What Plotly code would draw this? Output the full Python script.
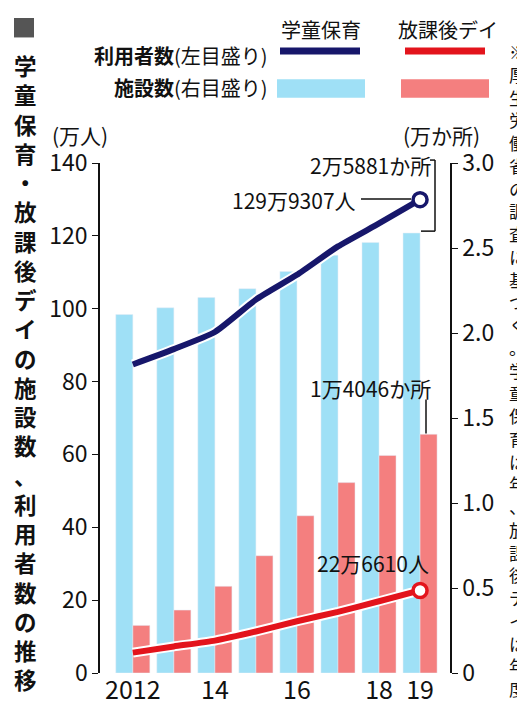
import plotly.graph_objects as go

years = [2012, 2013, 2014, 2015, 2016, 2017, 2018, 2019]
tick_vals = [2012, 2014, 2016, 2018, 2019]
tick_text = ["2012", "14", "16", "18", "19"]
gakudo_users = [84.7, 88.9, 93.6, 102.5, 109.3, 117.1, 123.4, 129.9307]
day_users = [5.6, 7.3, 8.9, 11.4, 14.2, 16.8, 19.7, 22.661]
gakudo_fac = [2.1085, 2.1482, 2.2084, 2.2608, 2.3619, 2.4573, 2.5328, 2.5881]
day_fac = [0.28, 0.37, 0.51, 0.69, 0.925, 1.12, 1.28, 1.4046]

NAVY = "#17176b"; RED = "#e3141c"; LBLUE = "#9fe0f6"; PINK = "#f47f7f"
FONT = "Noto Sans CJK JP"
L, R, T, B = 92, 83, 155, 31
W, H = 525, 710
def px(x): return (x - L) / (W - L - R)
def py(y): return (H - B - y) / (H - T - B)

fig = go.Figure()
fig.add_bar(x=years, y=gakudo_fac, marker_color=LBLUE, offsetgroup="a", yaxis="y")
fig.add_bar(x=years, y=day_fac, marker_color=PINK, offsetgroup="b", yaxis="y")
for vals, col in [(gakudo_users, NAVY), (day_users, RED)]:
    fig.add_scatter(x=years, y=vals, mode="lines", line=dict(color="white", width=10, shape="spline", smoothing=0.5), yaxis="y2", hoverinfo="skip")
    fig.add_scatter(x=years, y=vals, mode="lines", line=dict(color=col, width=6, shape="spline", smoothing=0.5), yaxis="y2")
    fig.add_scatter(x=years[-1:], y=vals[-1:], mode="markers", marker=dict(size=14, color="white", line=dict(color=col, width=3.5)), yaxis="y2")

fig.update_layout(
    width=W, height=H, margin=dict(l=L, r=R, t=T, b=B), showlegend=False,
    plot_bgcolor="white", paper_bgcolor="white", barmode="group", bargap=0.17, bargroupgap=0,
    font=dict(family=FONT, color="#111", size=22),
    xaxis=dict(range=[2011.2, 2019.73], tickvals=tick_vals, ticktext=tick_text, showgrid=False,
               ticks="", tickfont=dict(size=25), zeroline=False),
    yaxis=dict(side="right", range=[0, 3.0], tickvals=[0, 0.5, 1.0, 1.5, 2.0, 2.5, 3.0],
               ticktext=["0", "0.5", "1.0", "1.5", "2.0", "2.5", "3.0"], showgrid=False,
               showline=True, linecolor="#111", linewidth=1.5, ticks="outside", ticklen=6,
               tickcolor="#111", zeroline=False, tickfont=dict(size=23)),
    yaxis2=dict(side="left", overlaying="y", range=[0, 140], tickvals=list(range(0, 141, 20)),
                showgrid=False, showline=True, linecolor="#111", linewidth=1.5, ticks="outside",
                ticklen=6, tickcolor="#111", zeroline=False, tickfont=dict(size=23)),
)

ann = []
def A(text, x, y, xa="center", ya="middle", size=20, **kw):
    ann.append(dict(text=text, x=px(x), y=py(y), xref="paper", yref="paper", xanchor=xa, yanchor=ya,
                    showarrow=False, font=dict(size=size, family=FONT, color="#111"), **kw))

title = "学童保育・放課後デイの施設数、利用者数の推移"
A("<b>" + "<br>".join(title) + "</b>", 17, 370, size=22.5, align="center")
note = "※厚生労働省の調査に基づく。学童保育は年、放課後デイは年度"
A("<br>".join(note), 510, 368, size=17.5, align="center")
A("学童保育", 313, 18, size=20)
A("放課後デイ", 440, 18, size=20)
A("<b>利用者数</b>(左目盛り)", 262, 45, xa="right", size=20)
A("<b>施設数</b>(右目盛り)", 262, 77, xa="right", size=20)
A("(万人)", 72, 126, size=21)
A("(万か所)", 433, 126, size=21)
A("2万5881か所", 425, 157, xa="right", size=21)
A("129万9307人", 350, 193, xa="right", size=21)
A("1万4046か所", 425, 386, xa="right", size=21)
A("22万6610人", 365, 566, size=21)
fig.update_layout(annotations=ann)

shapes = []
def Lseg(x0, y0, x1, y1, col="#111", w=1.5):
    shapes.append(dict(type="line", xref="paper", yref="paper", x0=px(x0), y0=py(y0), x1=px(x1), y1=py(y1), line=dict(color=col, width=w)))
Lseg(272, 40, 352, 40, NAVY, 7)
Lseg(397, 40, 477, 40, RED, 7)
shapes.append(dict(type="rect", xref="paper", yref="paper", x0=px(269), x1=px(357), y0=py(88), y1=py(69), fillcolor=LBLUE, line_width=0))
shapes.append(dict(type="rect", xref="paper", yref="paper", x0=px(393), x1=px(481), y0=py(88), y1=py(69), fillcolor=PINK, line_width=0))
Lseg(422, 152, 427, 152); Lseg(427, 152, 427, 225); Lseg(427, 225, 413, 225)
Lseg(353, 192, 403, 192)
Lseg(418, 398, 418, 433)
shapes.append(dict(type="rect", xref="paper", yref="paper", x0=px(6), x1=px(26), y0=py(26), y1=py(6), fillcolor="#555", line_width=0))
fig.update_layout(shapes=shapes)

fig.write_html("out.html")
